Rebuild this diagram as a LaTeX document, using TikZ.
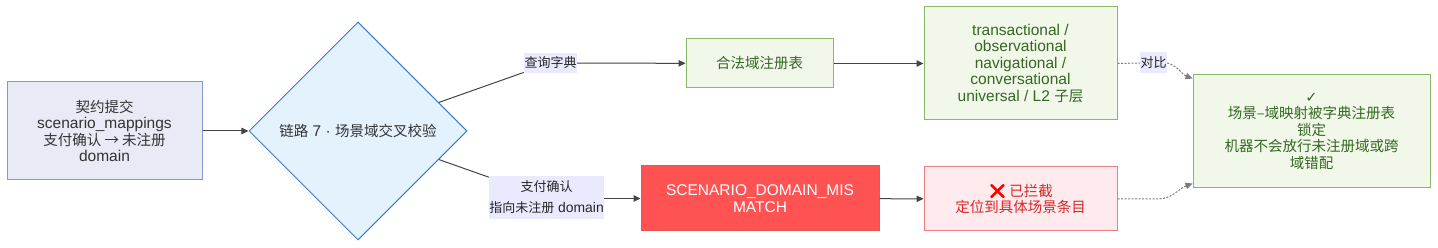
\documentclass[tikz,border=0pt]{standalone}
\usepackage{fontspec}
\setmainfont{Liberation Sans}[Scale=1.07]
\newfontfamily\cjk{Noto Sans CJK SC}
\newfontfamily\sym{DejaVu Sans}
\newfontfamily\emo{Noto Emoji}
\newcommand{\zh}[1]{{\cjk #1}}
\usetikzlibrary{shapes.geometric,arrows.meta}
\definecolor{inFill}{RGB}{232,234,246}
\definecolor{inLine}{RGB}{135,148,214}
\definecolor{chkFill}{RGB}{227,242,253}
\definecolor{chkLine}{RGB}{58,124,204}
\definecolor{okFill}{RGB}{241,248,233}
\definecolor{okLine}{RGB}{138,184,106}
\definecolor{okText}{RGB}{52,104,34}
\definecolor{misFill}{RGB}{255,82,82}
\definecolor{misLine}{RGB}{226,88,88}
\definecolor{blkFill}{RGB}{255,235,238}
\definecolor{blkLine}{RGB}{232,128,128}
\definecolor{blkText}{RGB}{214,38,38}
\definecolor{lblFill}{RGB}{234,234,255}
\definecolor{edge}{RGB}{68,68,68}
\tikzset{
  box/.style={draw, align=center, inner sep=0pt, line width=1pt, text=black!80,
    font=\fontsize{14.5}{16.5}\selectfont},
  lbl/.style={fill=lblFill, align=center, inner sep=0pt, text=black!85,
    font=\fontsize{13}{21}\selectfont},
  okbox/.style={box, fill=okFill, draw=okLine, text=okText},
  link/.style={draw=edge, line width=1pt},
  cmp/.style={draw=edge!70, line width=1pt, dash pattern=on 2pt off 1.5pt}
}
\begin{document}
\begin{tikzpicture}[x=1pt,y=1pt,>={Triangle[length=7pt,width=6.5pt]}]
\useasboundingbox (0,0) rectangle (1438,-248);
\node[box, fill=inFill, draw=inLine, minimum width=195, minimum height=98] (in) at (104.5,-131)
  {\zh{契约提交}\\scenario\_mappings\\\zh{支付确认 → 未注册}\\domain};
\node[box, diamond, aspect=1, fill=chkFill, draw=chkLine, minimum width=218, minimum height=218] (chk) at (358,-131)
  {\zh{链路} 7 · \zh{场景域交叉校验}};
\node[lbl, minimum width=53, minimum height=20] (l1) at (550.5,-63) {\zh{查询字典}};
\node[lbl, minimum width=115, minimum height=43] (l2) at (546.5,-197.5) {\zh{支付确认}\\\zh{指向未注册} domain};
\node[okbox, minimum width=147, minimum height=49] (dict) at (759.5,-63.5) {\zh{合法域注册表}};
\node[okbox, minimum width=193, minimum height=113] (dom) at (1020.5,-63.5)
  {transactional /\\observational\\navigational /\\conversational\\universal / L2 \zh{子层}};
\node[box, fill=misFill, draw=misLine, text=white, minimum width=238, minimum height=65] (mis) at (760,-198.5)
  {SCENARIO\_DOMAIN\_MIS\\MATCH};
\node[box, fill=blkFill, draw=blkLine, text=blkText, minimum width=193, minimum height=64] (blk) at (1020.5,-199)
  {{\emo\color{red}❌}\,\zh{已拦截}\\\zh{定位到具体场景条目}};
\node[lbl, minimum width=27, minimum height=21] (l3) at (1153.5,-63) {\zh{对比}};
\node[okbox, minimum width=237, minimum height=113] (ok) at (1311.5,-131.5)
  {{\sym ✓}\\\zh{场景–域映射被字典注册表}\\\zh{锁定}\\\zh{机器不会放行未注册域或跨}\\\zh{域错配}};
\draw[link, ->] (in) -- (chk);
\draw[link] (chk) -- (l1);
\draw[link, ->] (l1) -- (dict);
\draw[link, ->] (dict) -- (dom);
\draw[link] (chk) -- (l2);
\draw[link, ->] (l2.east |- mis.west) -- (mis.west);
\draw[link, ->] (mis) -- (blk);
\draw[cmp] (dom.east) -- (l3.west);
\draw[cmp, ->] (l3.east) to[out=-15,in=160] ([yshift=-4pt]ok.north west);
\draw[cmp, ->] (blk.east) -- ++(40,0) to[out=0,in=200] ([yshift=5pt]ok.south west);
\end{tikzpicture}
\end{document}
